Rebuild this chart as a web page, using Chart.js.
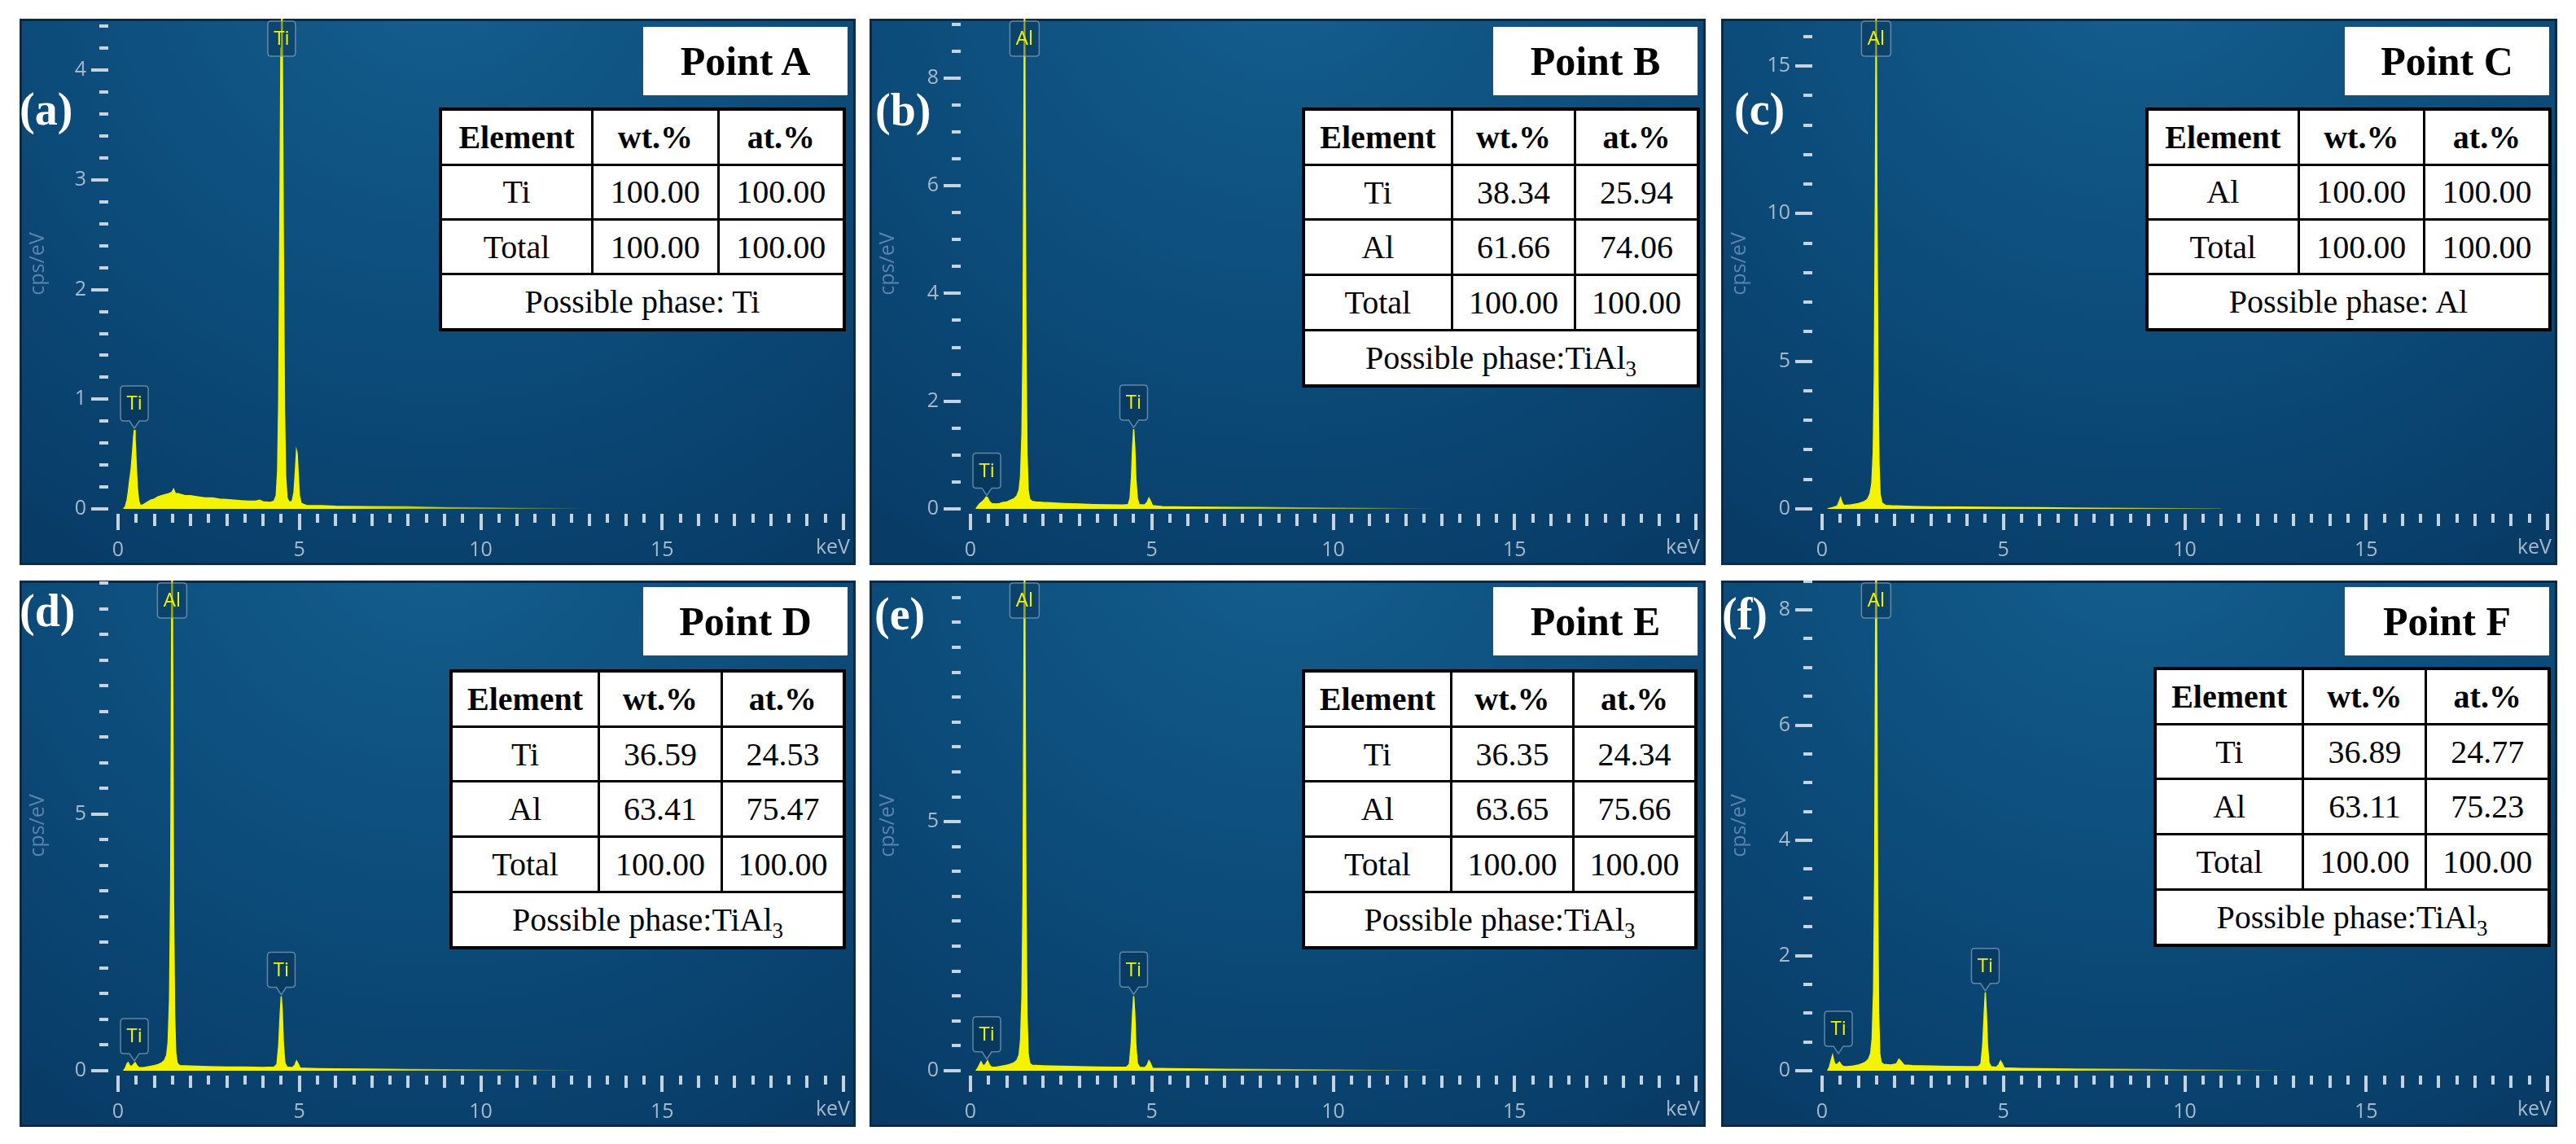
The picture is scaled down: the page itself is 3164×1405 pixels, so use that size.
<!DOCTYPE html>
<html>
<head>
<meta charset="utf-8">
<script src="https://cdn.jsdelivr.net/npm/chart.js@4.4.1/dist/chart.umd.min.js"></script>
<style>
  html, body { margin: 0; padding: 0; background: #fff; }
  body { width: 3164px; height: 1405px; position: relative; overflow: hidden; }
  .panel { position: absolute; width: 1027px; height: 671px; }
  .panel canvas { position: absolute; left: 0; top: 0; }
  .tag { position: absolute; color: #fff; font: bold 56px "Liberation Serif", serif; line-height: 56px; white-space: nowrap; }
  .point { position: absolute; width: 251px; height: 84px; background: #fff; color: #000;
           font: bold 50px "Liberation Serif", serif; line-height: 84px; text-align: center; }
  table.eds { position: absolute; border-collapse: collapse; table-layout: fixed; background: #fff;
              font: 40px "Liberation Serif", serif; color: #000; border: 4px solid #000; }
  table.eds td { border: 3px solid #000; padding: 0; text-align: center; white-space: nowrap; }
  table.eds tr:first-child td { font-weight: bold; }
  table.eds sub { font-size: 27px; vertical-align: -9px; line-height: 0; }
</style>
</head>
<body>
<script>
// spectra: [keV, cps/eV]
const spectrumA = [[0.15,0],[0.2,0.02],[0.25,0.08],[0.28,0.15],[0.32,0.26],[0.36,0.36],[0.4,0.52],[0.43,0.66],[0.45,0.72],[0.47,0.64],
  [0.5,0.42],[0.53,0.2],[0.57,0.07],[0.62,0.03],[0.7,0.04],[0.8,0.06],[0.9,0.08],[1.0,0.09],[1.1,0.11],[1.2,0.12],
  [1.3,0.13],[1.4,0.14],[1.48,0.15],[1.53,0.18],[1.58,0.14],[1.65,0.14],[1.75,0.13],[1.85,0.12],[2.0,0.12],[2.2,0.11],
  [2.4,0.1],[2.6,0.1],[2.8,0.09],[3.0,0.085],[3.2,0.08],[3.4,0.075],[3.6,0.07],[3.8,0.07],[3.9,0.08],[4.0,0.065],
  [4.2,0.06],[4.3,0.07],[4.36,0.12],[4.4,0.35],[4.43,1.0],[4.46,2.6],[4.49,4.2],[4.51,5.2],[4.53,4.2],[4.56,2.3],
  [4.59,0.9],[4.62,0.3],[4.66,0.1],[4.72,0.06],[4.8,0.07],[4.85,0.15],[4.89,0.35],[4.92,0.53],[4.94,0.5],[4.97,0.3],
  [5.0,0.12],[5.05,0.05],[5.2,0.03],[5.6,0.03],[6,0.025],[7,0.02],[8,0.018],[9,0.012],[10,0.01],[11,0.006],[12,0.003],[13,0]];
const spectrumB = [[0.15,0],[0.2,0.05],[0.26,0.1],[0.32,0.13],[0.38,0.17],[0.43,0.22],[0.47,0.21],[0.52,0.14],[0.58,0.1],[0.7,0.09],
  [0.8,0.1],[0.9,0.12],[1.0,0.13],[1.1,0.16],[1.2,0.19],[1.28,0.24],[1.34,0.35],[1.38,0.6],[1.42,1.4],[1.45,3.2],
  [1.47,6.5],[1.49,10.5],[1.51,6.5],[1.53,3.0],[1.56,1.0],[1.59,0.35],[1.63,0.18],[1.7,0.14],[1.8,0.13],[2.0,0.12],
  [2.3,0.11],[2.6,0.1],[3.0,0.09],[3.4,0.08],[3.8,0.075],[4.2,0.07],[4.35,0.08],[4.4,0.2],[4.44,0.6],[4.47,1.15],
  [4.5,1.48],[4.53,1.15],[4.56,0.55],[4.6,0.2],[4.65,0.08],[4.8,0.07],[4.87,0.12],[4.92,0.2],[4.96,0.15],[5.02,0.06],
  [5.3,0.04],[6,0.035],[7,0.03],[8,0.025],[9,0.02],[10,0.015],[11,0.01],[12,0.005],[13,0]];
const spectrumC = [[0.15,0],[0.3,0.05],[0.42,0.1],[0.47,0.25],[0.51,0.38],[0.55,0.22],[0.6,0.12],[0.8,0.14],[1.0,0.18],[1.15,0.24],
  [1.25,0.32],[1.32,0.5],[1.37,0.85],[1.41,1.9],[1.44,4.5],[1.47,11],[1.49,18],[1.51,11],[1.54,4.5],[1.57,1.5],
  [1.6,0.5],[1.65,0.2],[1.75,0.12],[2,0.1],[2.5,0.08],[3,0.07],[4,0.06],[5,0.05],[6,0.04],[7,0.03],
  [8,0.02],[9,0.012],[10,0.006],[11,0]];
const spectrumD = [[0.15,0],[0.2,0.05],[0.25,0.14],[0.28,0.16],[0.32,0.1],[0.37,0.08],[0.42,0.12],[0.47,0.16],[0.52,0.1],[0.58,0.06],
  [0.7,0.06],[0.85,0.08],[1.0,0.1],[1.1,0.12],[1.2,0.15],[1.28,0.2],[1.34,0.3],[1.38,0.55],[1.42,1.4],[1.45,3.5],
  [1.47,7],[1.49,11],[1.51,7],[1.53,3.3],[1.56,1.1],[1.59,0.35],[1.63,0.15],[1.7,0.1],[2,0.09],[2.5,0.08],
  [3,0.07],[3.5,0.07],[4,0.065],[4.3,0.07],[4.38,0.12],[4.43,0.5],[4.47,1.1],[4.5,1.45],[4.53,1.1],[4.56,0.5],
  [4.6,0.15],[4.66,0.07],[4.8,0.06],[4.87,0.1],[4.92,0.19],[4.96,0.14],[5.02,0.05],[5.5,0.04],[6,0.035],[7,0.03],
  [8,0.025],[9,0.02],[10,0.015],[11,0.01],[12,0.005],[13,0]];
const spectrumE = [[0.15,0],[0.2,0.05],[0.25,0.12],[0.29,0.18],[0.33,0.12],[0.38,0.1],[0.43,0.15],[0.47,0.2],[0.52,0.12],[0.58,0.07],
  [0.7,0.07],[0.85,0.09],[1.0,0.11],[1.1,0.13],[1.2,0.16],[1.28,0.21],[1.34,0.32],[1.38,0.6],[1.42,1.5],[1.45,3.6],
  [1.47,7.2],[1.49,11.5],[1.51,7.2],[1.53,3.4],[1.56,1.1],[1.59,0.35],[1.63,0.15],[1.7,0.11],[2,0.1],[2.5,0.09],
  [3,0.08],[3.5,0.075],[4,0.07],[4.3,0.07],[4.38,0.13],[4.43,0.52],[4.47,1.15],[4.5,1.5],[4.53,1.15],[4.56,0.5],
  [4.6,0.15],[4.66,0.07],[4.8,0.06],[4.87,0.11],[4.92,0.2],[4.96,0.15],[5.02,0.05],[5.5,0.04],[6,0.035],[7,0.03],
  [8,0.025],[9,0.02],[10,0.015],[11,0.01],[12,0.005],[13,0]];
const spectrumF = [[0.15,0],[0.2,0.06],[0.25,0.18],[0.29,0.27],[0.33,0.15],[0.38,0.1],[0.43,0.12],[0.48,0.15],[0.53,0.1],[0.6,0.07],
  [0.7,0.07],[0.85,0.08],[1.0,0.1],[1.1,0.12],[1.2,0.15],[1.28,0.2],[1.34,0.3],[1.38,0.55],[1.42,1.4],[1.45,3.4],
  [1.47,6.8],[1.49,10],[1.51,6.8],[1.53,3.2],[1.56,1.0],[1.59,0.3],[1.63,0.14],[1.7,0.11],[1.9,0.1],[2.05,0.12],
  [2.12,0.2],[2.18,0.16],[2.26,0.1],[2.5,0.09],[3,0.08],[3.5,0.075],[4,0.07],[4.3,0.07],[4.38,0.12],[4.43,0.45],
  [4.47,1.0],[4.5,1.36],[4.53,1.0],[4.56,0.45],[4.6,0.14],[4.66,0.07],[4.8,0.06],[4.87,0.1],[4.92,0.17],[4.96,0.13],
  [5.02,0.05],[5.5,0.04],[6,0.035],[7,0.03],[8,0.025],[9,0.02],[10,0.015],[11,0.01],[12,0.005],[13,0]];

// peak markers: [element, keV, peak height]
const peaksA = [['Ti', 0.45, 0.72], ['Ti', 4.51, 5.2]];
const peaksB = [['Ti', 0.45, 0.22], ['Al', 1.49, 10.5], ['Ti', 4.5, 1.48]];
const peaksC = [['Al', 1.49, 18]];
const peaksD = [['Ti', 0.45, 0.16], ['Al', 1.49, 11], ['Ti', 4.5, 1.45]];
const peaksE = [['Ti', 0.45, 0.2], ['Al', 1.49, 11.5], ['Ti', 4.5, 1.5]];
const peaksF = [['Ti', 0.45, 0.27], ['Al', 1.49, 10], ['Ti', 4.5, 1.36]];

// y axis: top, minor step, labelled step
const yMax = [4.47, 9.1, 16.6, 9.55, 9.84, 8.51];
const yStep = [0.2, 0.5, 1, 0.5, 0.5, 0.5];
const yLabelStep = [1, 2, 5, 5, 5, 2];

// quantification tables
const rowsA = [['Ti', '100.00', '100.00'], ['Total', '100.00', '100.00']];
const rowsB = [['Ti', '38.34', '25.94'], ['Al', '61.66', '74.06'], ['Total', '100.00', '100.00']];
const rowsC = [['Al', '100.00', '100.00'], ['Total', '100.00', '100.00']];
const rowsD = [['Ti', '36.59', '24.53'], ['Al', '63.41', '75.47'], ['Total', '100.00', '100.00']];
const rowsE = [['Ti', '36.35', '24.34'], ['Al', '63.65', '75.66'], ['Total', '100.00', '100.00']];
const rowsF = [['Ti', '36.89', '24.77'], ['Al', '63.11', '75.23'], ['Total', '100.00', '100.00']];
const phases = ['Possible phase: Ti', 'Possible phase:TiAl<sub>3</sub>', 'Possible phase: Al',
  'Possible phase:TiAl<sub>3</sub>', 'Possible phase:TiAl<sub>3</sub>', 'Possible phase:TiAl<sub>3</sub>'];
const tags = ['(a)', '(b)', '(c)', '(d)', '(e)', '(f)'];
const points = ['Point A', 'Point B', 'Point C', 'Point D', 'Point E', 'Point F'];

const spectra = [spectrumA, spectrumB, spectrumC, spectrumD, spectrumE, spectrumF];
const peaks = [peaksA, peaksB, peaksC, peaksD, peaksE, peaksF];
const rows = [rowsA, rowsB, rowsC, rowsD, rowsE, rowsF];

// page layout (px)
const W = 1027, H = 671, AXIS_H = 69;
const panelLeft = [24, 1068, 2114, 24, 1068, 2114];
const panelTop = [23, 23, 23, 713, 713, 713];
const plotLeft = [121, 124, 124, 121, 124, 124];
const plotRight = [1012, 1015, 1015, 1012, 1015, 1015];
const tagPos = [[0, 83], [7, 84], [16, 83], [0, 9], [6, 13], [1, 13]];
const pointTop = [10, 10, 10, 8, 8, 8];
const tablePos = [[515, 109, 500], [531, 109, 489], [521, 109, 499], [528, 109, 487], [531, 109, 486], [531, 106, 488]];
const ROW_H = 68.7;

const YELLOW = '#f4f400';
const TEXT = '#a6b8ca';
const DASH = '#c6d2de';
const FONT = '"Open Sans", "Noto Sans", sans-serif';

function onStep(v, step) {
  return Math.abs(v / step - Math.round(v / step)) < 1e-6;
}

const backdrop = {
  id: 'backdrop',
  beforeDraw(chart) {
    const {ctx, width, height} = chart;
    const g = ctx.createRadialGradient(width * 0.5, -height * 0.15, 0, width * 0.5, -height * 0.15, width * 0.95);
    g.addColorStop(0, '#14608f');
    g.addColorStop(0.5, '#0c4c7b');
    g.addColorStop(1, '#073862');
    ctx.save();
    ctx.fillStyle = g;
    ctx.fillRect(0, 0, width, height);
    ctx.strokeStyle = '#0a2a45';
    ctx.lineWidth = 3;
    ctx.strokeRect(1.5, 1.5, width - 3, height - 3);
    ctx.restore();
  }
};

// dash tick marks on both axes and the keV unit
const axisMarks = {
  id: 'axisMarks',
  afterDraw(chart, args, o) {
    const {ctx, chartArea: a, scales: {x, y}} = chart;
    ctx.save();
    ctx.fillStyle = DASH;
    const nY = Math.floor(y.max / o.step + 1e-6);
    for (let i = 0; i <= nY; i++) {
      const v = i * o.step;
      const py = Math.round(y.getPixelForValue(v));
      const len = onStep(v, o.label) ? 21 : 11;
      ctx.fillRect(a.left - 12 - len, py - 2, len, 4);
    }
    const nX = Math.round(x.max / 0.5);
    for (let i = 0; i <= nX; i++) {
      const v = i * 0.5;
      const px = Math.round(x.getPixelForValue(v));
      const len = onStep(v, 5) ? 20 : (onStep(v, 1) ? 15 : 11);
      ctx.fillRect(px - 2, a.bottom + 6, 4, len);
    }
    ctx.fillStyle = TEXT;
    ctx.font = '25px ' + FONT;
    ctx.textAlign = 'right';
    ctx.textBaseline = 'middle';
    ctx.fillText('keV', chart.width - 7, a.bottom + 48);
    ctx.restore();
  }
};

function tagPath(ctx, cx, top, w, h, tip) {
  const r = 4, l = cx - w / 2, rt = cx + w / 2, b = top + h;
  ctx.beginPath();
  ctx.moveTo(l + r, top);
  ctx.lineTo(rt - r, top);
  ctx.quadraticCurveTo(rt, top, rt, top + r);
  ctx.lineTo(rt, b - r);
  ctx.quadraticCurveTo(rt, b, rt - r, b);
  if (tip) {
    ctx.lineTo(cx + 6, b);
    ctx.lineTo(cx, b + 9);
    ctx.lineTo(cx - 6, b);
  }
  ctx.lineTo(l + r, b);
  ctx.quadraticCurveTo(l, b, l, b - r);
  ctx.lineTo(l, top + r);
  ctx.quadraticCurveTo(l, top, l + r, top);
  ctx.closePath();
}

// element markers above the peaks
const peakTags = {
  id: 'peakTags',
  afterDatasetsDraw(chart, args, o) {
    const {ctx, scales: {x, y}} = chart;
    ctx.save();
    o.peaks.forEach(([el, keV, h]) => {
      const px = x.getPixelForValue(keV);
      const w = el === 'Al' ? 36 : 34, bh = 43;
      const clipped = h >= y.max;
      const top = clipped ? 3 : y.getPixelForValue(h) - 2 - 9 - bh;
      tagPath(ctx, px, top, w, bh, !clipped);
      ctx.fillStyle = 'rgba(6,40,70,0.35)';
      ctx.fill();
      ctx.strokeStyle = 'rgba(135,165,190,0.7)';
      ctx.lineWidth = 1.5;
      ctx.stroke();
      ctx.fillStyle = YELLOW;
      ctx.font = '24px ' + FONT;
      ctx.textAlign = 'center';
      ctx.textBaseline = 'middle';
      ctx.fillText(el, px, top + bh / 2 + 1);
    });
    ctx.restore();
  }
};

function fade(c) {
  const a = c.chart.chartArea;
  if (!a) return YELLOW;
  const g = c.chart.ctx.createLinearGradient(a.left, 0, a.right, 0);
  g.addColorStop(0, YELLOW);
  g.addColorStop(0.3, YELLOW);
  g.addColorStop(0.65, 'rgba(244,244,0,0)');
  return g;
}

function buildPanel(i) {
  const col = i % 3;
  const div = document.createElement('div');
  div.className = 'panel';
  div.style.left = panelLeft[i] + 'px';
  div.style.top = panelTop[i] + 'px';
  document.body.appendChild(div);

  const canvas = document.createElement('canvas');
  canvas.width = W;
  canvas.height = H;
  div.appendChild(canvas);

  new Chart(canvas, {
    type: 'line',
    data: {
      datasets: [{
        data: spectra[i].map(p => ({x: p[0], y: p[1]})),
        borderColor: fade,
        backgroundColor: fade,
        borderWidth: 1.5,
        fill: 'origin',
        pointRadius: 0,
        tension: 0
      }]
    },
    options: {
      responsive: false,
      animation: false,
      events: [],
      layout: {autoPadding: false, padding: {left: 0, top: 0, bottom: 0, right: W - plotRight[col]}},
      plugins: {
        legend: {display: false},
        tooltip: {enabled: false},
        axisMarks: {step: yStep[i], label: yLabelStep[i]},
        peakTags: {peaks: peaks[i]}
      },
      scales: {
        x: {
          type: 'linear', min: 0, max: 20,
          afterFit: s => { s.height = AXIS_H; s.paddingLeft = 0; s.paddingRight = 0; },
          grid: {display: false, drawTicks: false},
          border: {display: false},
          ticks: {
            stepSize: 0.5, autoSkip: false, maxRotation: 0, padding: 36,
            color: TEXT, font: {family: FONT, size: 25},
            callback: v => (onStep(v, 5) && v < 20) ? String(v) : ''
          }
        },
        y: {
          min: 0, max: yMax[i],
          afterFit: s => { s.width = plotLeft[col]; s.paddingTop = 0; s.paddingBottom = 0; },
          grid: {display: false, drawTicks: false},
          border: {display: false},
          ticks: {
            stepSize: yStep[i], autoSkip: false, padding: 39,
            color: TEXT, font: {family: FONT, size: 25},
            callback: v => onStep(v, yLabelStep[i]) ? String(Math.round(v)) : ''
          },
          title: {
            display: true, text: 'cps/eV', color: '#5a84ad',
            font: {family: FONT, size: 25}, padding: {top: 8, bottom: 0}
          }
        }
      }
    },
    plugins: [backdrop, axisMarks, peakTags]
  });

  const tag = document.createElement('div');
  tag.className = 'tag';
  tag.style.left = tagPos[i][0] + 'px';
  tag.style.top = tagPos[i][1] + 'px';
  tag.textContent = tags[i];
  div.appendChild(tag);

  const pt = document.createElement('div');
  pt.className = 'point';
  pt.style.left = (W - 10 - 251) + 'px';
  pt.style.top = pointTop[i] + 'px';
  pt.textContent = points[i];
  div.appendChild(pt);

  const t = document.createElement('table');
  t.className = 'eds';
  const [tl, tt, tw] = tablePos[i];
  const nRows = rows[i].length + 2;
  t.style.left = tl + 'px';
  t.style.top = tt + 'px';
  t.style.width = tw + 'px';
  t.style.height = (nRows * ROW_H) + 'px';
  let html = '<colgroup><col style="width:37.6%"><col style="width:31.2%"><col></colgroup>';
  html += '<tr><td>Element</td><td>wt.%</td><td>at.%</td></tr>';
  rows[i].forEach(r => { html += '<tr>' + r.map(c => '<td>' + c + '</td>').join('') + '</tr>'; });
  html += '<tr><td colspan="3">' + phases[i] + '</td></tr>';
  t.innerHTML = html;
  div.appendChild(t);
}

for (let i = 0; i < 6; i++) buildPanel(i);
</script>
</body>
</html>
